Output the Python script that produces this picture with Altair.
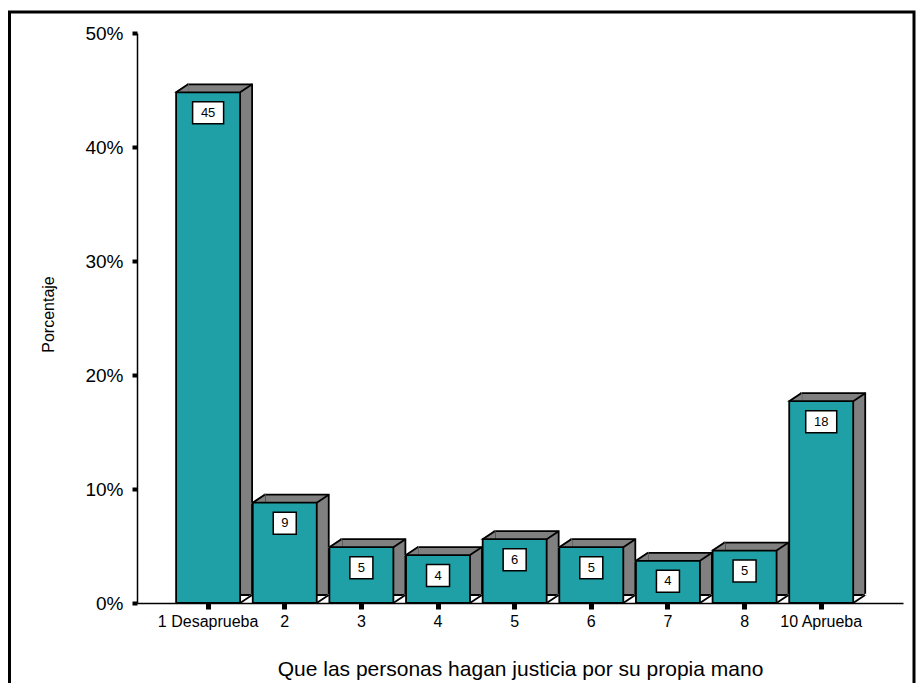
import altair as alt
import pandas as pd

categories = ["1 Desaprueba", "2", "3", "4", "5", "6", "7", "8", "10 Aprueba"]
percent = [44.8, 8.8, 4.9, 4.2, 5.6, 4.9, 3.7, 4.6, 17.7]
labels = ["45", "9", "5", "4", "6", "5", "4", "5", "18"]

df = pd.DataFrame({
    "cat": categories,
    "value": [p / 100 for p in percent],
    "label": labels,
})
df["digits"] = df["label"].str.len().astype(str)
df["zero"] = 0.0

FRONT = "#1FA0A6"
SIDE = "#808080"
FONT = "Liberation Sans"

xscale = alt.Scale(domain=categories, paddingInner=0.165, paddingOuter=0.58, align=0.44)
yscale = alt.Scale(domain=[0, 0.5], nice=False)

x_axis = alt.Axis(
    title="Que las personas hagan justicia por su propia mano",
    labelAngle=0, labelFontSize=16, labelColor="black", labelPadding=4,
    tickSize=6, tickWidth=5, tickColor="black",
    domainColor="black", domainWidth=1.5,
    titleFontSize=21, titleFontWeight="normal", titleColor="black",
    titleY=72, titleBaseline="alphabetic", zindex=1,
)
y_axis = alt.Axis(
    title="Porcentaje", values=[0, 0.1, 0.2, 0.3, 0.4, 0.5], format=".0%",
    labelFontSize=19, labelColor="black", labelPadding=9,
    tickSize=5, tickWidth=4, tickColor="black",
    domainColor="black", domainWidth=1.5, grid=False,
    titleFontSize=16, titleFontWeight="normal", titleColor="black",
    titleX=-89, titleY=281, titleAngle=270, titleAlign="center", titleBaseline="middle",
    zindex=1,
)


def X(band=None):
    if band is None:
        return alt.X("cat:N", scale=xscale, axis=x_axis, sort=categories)
    return alt.X("cat:N", scale=xscale, axis=x_axis, sort=categories, bandPosition=band)


def Y(field="value"):
    return alt.Y(f"{field}:Q", scale=yscale, axis=y_axis)


base = alt.Chart(df)

border = alt.Chart(pd.DataFrame({"a": [0]})).mark_rect(
    fillOpacity=0, stroke="black", strokeWidth=3
).encode(
    x=alt.value(-127.5), x2=alt.value(777), y=alt.value(-21), y2=alt.value(700)
)

back = base.mark_bar(color=SIDE, stroke="black", strokeWidth=1.8, xOffset=12, yOffset=-8).encode(
    x=X(), y=Y()
)

tl_tri = base.mark_point(
    shape="M0,0L12,-8L12,0Z", size=4, filled=True, color=SIDE, stroke=SIDE,
    strokeWidth=1.5, opacity=1
).encode(x=X(0), y=Y())

br_tri = base.mark_point(
    shape="M0,0L12,0L12,-8Z", size=4, filled=True, color="white", stroke="white",
    strokeWidth=2, opacity=1
).encode(x=X(1), y=Y("zero"))

front = base.mark_bar(color=FRONT, stroke="black", strokeWidth=1.8).encode(x=X(), y=Y())

diag_kw = dict(shape="M0,0L12,-8", size=4, filled=False, color="black", strokeWidth=1.8, opacity=1)
d_tl = base.mark_point(**diag_kw).encode(x=X(0), y=Y())
d_tr = base.mark_point(**diag_kw).encode(x=X(1), y=Y())
d_br = base.mark_point(**diag_kw).encode(x=X(1), y=Y("zero"))

boxes = base.mark_point(
    size=4, filled=True, color="white", stroke="black", strokeWidth=1.5, opacity=1
).encode(
    x=X(), y=Y(),
    shape=alt.Shape(
        "digits:N",
        scale=alt.Scale(
            domain=["1", "2"],
            range=["M-11.5,9.5L11.5,9.5L11.5,31.5L-11.5,31.5Z",
                   "M-15.5,9.5L15.5,9.5L15.5,31.5L-15.5,31.5Z"],
        ),
        legend=None,
    ),
)

texts = base.mark_text(dy=20.5, fontSize=13, color="black", baseline="middle").encode(
    x=X(), y=Y(), text="label:N"
)

chart = alt.layer(
    border, back, tl_tri, br_tri, front, d_tl, d_tr, d_br, boxes, texts
).properties(
    width=766, height=570,
    padding={"left": 129, "top": 25, "right": 13, "bottom": 80},
    autosize="none",
).configure(font=FONT, background="white").configure_view(stroke=None)

chart.save("out.html", embed_options={"renderer": "svg", "actions": False})
